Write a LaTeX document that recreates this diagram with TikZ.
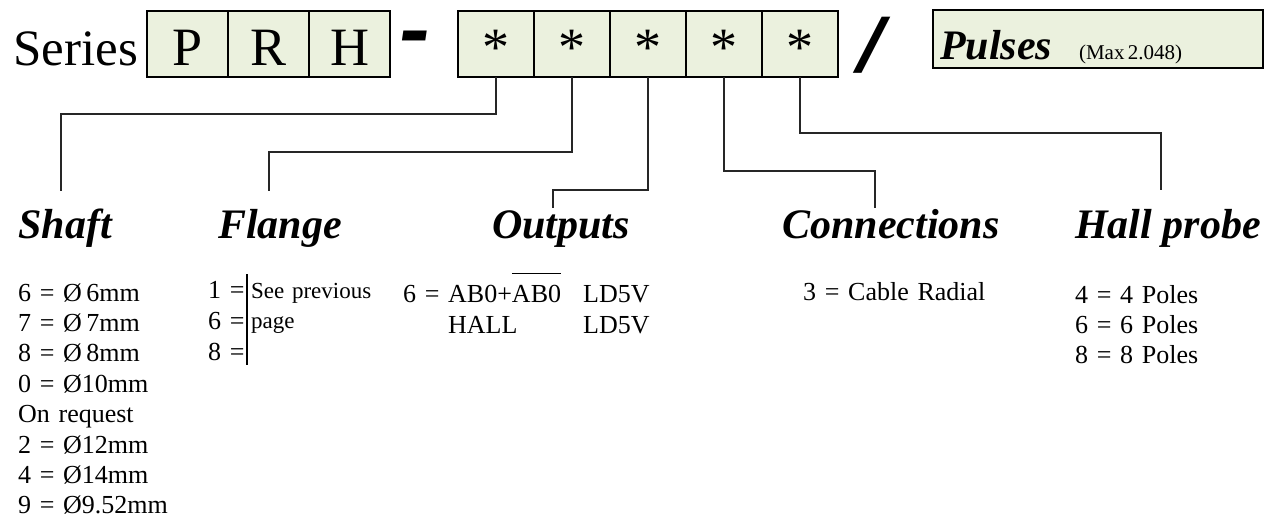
\documentclass[tikz,border=0pt]{standalone}
\usepackage{fontspec}
\setmainfont{Liberation Serif}
\usetikzlibrary{positioning}
\definecolor{cellfill}{HTML}{EBF1DE}

\begin{document}
\begin{tikzpicture}[
        x=1pt, y=-1pt,
        cell/.style={rectangle, draw, line width=2pt, fill=cellfill, minimum height=66pt, inner sep=0pt, outer sep=0pt, text height=42pt, text depth=0pt, font=\fontsize{54}{54}\selectfont},
        prhcell/.style={cell, minimum width=81pt},
        starcell/.style={cell, minimum width=76pt},
        heading/.style={anchor=base, inner sep=0pt, font=\fontsize{42}{42}\selectfont\bfseries\itshape},
        body/.style={anchor=base west, align=left, text width=170pt, inner sep=0pt, font=\fontsize{26}{30.4}\selectfont},
        link/.style={line width=1.5pt, black!85}
    ]
\useasboundingbox (0,0) rectangle (1277,520);

% Code row
        \node[anchor=base west, inner sep=0pt, font=\fontsize{51}{51}\selectfont] (series) at (13,65) {Series};
        \node[prhcell] (p) at (187.5,44) {P};
        \node[prhcell, right=0pt of p] (r) {R};
        \node[prhcell, right=0pt of r] (h) {H};
        \node[inner sep=0pt, font=\fontsize{90}{90}\selectfont\bfseries\itshape] (dash) at (415,47) {\scalebox{1}[1.3]{-}};
        \node[starcell] (star1) at (496,44) {*};
        \node[starcell, right=0pt of star1] (star2) {*};
        \node[starcell, right=0pt of star2] (star3) {*};
        \node[starcell, right=0pt of star3] (star4) {*};
        \node[starcell, right=0pt of star4] (star5) {*};
        \node[inner sep=0pt, font=\fontsize{84}{84}\selectfont\bfseries] (slash) at (872,45) {\scalebox{1.5}[1]{/}};
        \node[rectangle, draw, line width=2pt, fill=cellfill, minimum width=330pt, minimum height=58pt, text width=316pt, align=left, text height=40pt, text depth=0pt, inner xsep=7pt, inner ysep=0pt] (pulses) at (1098,39)
            {{\fontsize{42}{42}\selectfont\bfseries\itshape Pulses}\hspace{27pt}{\fontsize{21}{21}\selectfont(Max 2.048)}};

% Headings
        \node[heading] (shaft) at (65,238) {Shaft};
        \node[heading] (flange) at (280,238) {Flange};
        \node[heading] (outputs) at (561,238) {Outputs};
        \node[heading] (connections) at (891,238) {Connections};
        \node[heading] (hall) at (1168,238) {Hall probe};

% Options
        \node[body] (shaftlist) at (18,301) {6 = Ø\,6mm\\7 = Ø\,7mm\\8 = Ø\,8mm\\0 = Ø10mm\\On request\\2 = Ø12mm\\4 = Ø14mm\\9 = Ø9.52mm};
        \node[body, text width=38pt, font=\fontsize{26}{31}\selectfont] (flangelist) at (208,298) {1 =\\6 =\\8 =};
        \node[body, text width=140pt, font=\fontsize{23}{30}\selectfont] (flangenote) at (251,298) {See previous\\page};
        \node[body, text width=40pt] (outputsnum) at (403,302) {6 =};
        \node[body, text width=130pt, font=\fontsize{26}{31}\selectfont] (outputstype) at (448,302) {AB0+\makebox[0pt][l]{\rule[28pt]{49pt}{1.5pt}}AB0\\HALL};
        \node[body, text width=80pt, font=\fontsize{26}{31}\selectfont] (outputsvolt) at (583,302) {LD5V\\LD5V};
        \node[body, text width=200pt] (connlist) at (803,300) {3 = Cable Radial};
        \node[body, font=\fontsize{26}{30}\selectfont] (halllist) at (1075,303) {4 = 4 Poles\\6 = 6 Poles\\8 = 8 Poles};

        \coordinate (bartop) at (247,274);
        \coordinate (barbottom) at (247,365);
        \draw[line width=1.5pt] (bartop) -- (barbottom);

% Connectors
        \coordinate (shaftend) at (61,191);
        \coordinate (flangeend) at (269,191);
        \coordinate (outputsend) at (553,208);
        \coordinate (connend) at (875,208);
        \coordinate (hallend) at (1161,190);
        \draw[link] (star1.south) -- ++(0,37) -| (shaftend);
        \draw[link] (star2.south) -- ++(0,75) -| (flangeend);
        \draw[link] (star3.south) -- ++(0,113) -| (outputsend);
        \draw[link] (star4.south) -- ++(0,94) -| (connend);
        \draw[link] (star5.south) -- ++(0,56) -| (hallend);
    \end{tikzpicture}
\end{document}
